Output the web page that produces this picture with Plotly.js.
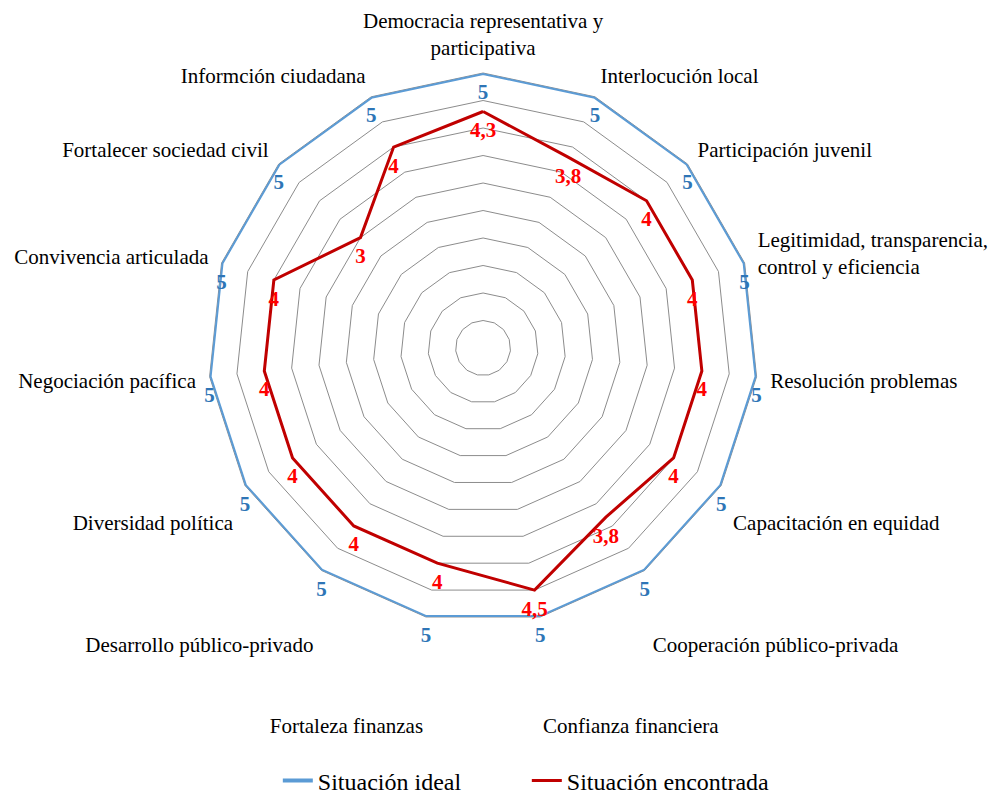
<!DOCTYPE html>
<html>
<head>
<meta charset="utf-8">
<script src="https://cdn.plot.ly/plotly-3.0.1.min.js"></script>
<style>html,body{margin:0;padding:0;background:#fff;}#chart{width:994px;height:805px;}</style>
</head>
<body>
<div id="chart"></div>
<script>
const categories = [
  "Democracia representativa y<br>participativa",
  "Interlocución local",
  "Participación juvenil",
  "Legitimidad, transparencia,<br>control y eficiencia",
  "Resolución problemas",
  "<br>Capacitación en equidad",
  "<br><br>Cooperación público-privada",
  "<br><br><br>Confianza financiera",
  "<br><br><br>Fortaleza finanzas",
  "<br><br>Desarrollo público-privado",
  "<br>Diversidad política",
  "Negociación pacífica",
  "Convivencia articulada",
  "Fortalecer sociedad civil",
  "Informción ciudadana"
];
const ideal = [5, 5, 5, 5, 5, 5, 5, 5, 5, 5, 5, 5, 5, 5, 5];
const encontrada = [4.3, 3.8, 4, 4, 4, 4, 3.8, 4.5, 4, 4, 4, 4, 4, 3, 4];
const seriesNames = ["Situación ideal", "Situación encontrada"];

const closeLoop = a => a.concat([a[0]]);
const fmt = v => String(v).replace('.', ',');
const serif = "'Liberation Serif', 'Times New Roman', serif";

const traces = [
  {type:'scatterpolar', mode:'lines', name:seriesNames[0], r:closeLoop(ideal), theta:closeLoop(categories),
   line:{color:'#5B9BD5', width:4}, hoverinfo:'skip'},
  {type:'scatterpolar', mode:'lines', name:seriesNames[1], r:closeLoop(encontrada), theta:closeLoop(categories),
   line:{color:'#C00000', width:3}, hoverinfo:'skip'},
  {type:'scatterpolar', mode:'markers+text', showlegend:false, r:ideal, theta:categories,
   marker:{size:14, opacity:0},
   text:ideal.map(fmt), textposition:'bottom center',
   textfont:{family:serif, size:21, color:'#2E75B6', weight:'bold'}, hoverinfo:'skip'},
  {type:'scatterpolar', mode:'markers+text', showlegend:false, r:encontrada, theta:categories,
   marker:{size:14, opacity:0},
   text:encontrada.map(fmt), textposition:'bottom center',
   textfont:{family:serif, size:21, color:'#FF0000', weight:'bold'}, hoverinfo:'skip'}
];

const layout = {
  width:994, height:805,
  margin:{l:0, r:0, t:0, b:25},
  paper_bgcolor:'white',
  font:{family:serif, color:'black'},
  showlegend:true,
  legend:{orientation:'h', x:0.53, xanchor:'center', y:-0.03, yanchor:'bottom',
          entrywidth:204, font:{family:serif, size:24, color:'black'}},
  polar:{
    domain:{x:[0.209, 0.763], y:[0.2013, 0.9064]},
    bgcolor:'white',
    gridshape:'linear',
    radialaxis:{range:[0,5], tick0:0, dtick:0.5, showticklabels:false, ticks:'', showline:false,
                gridcolor:'#8c8c8c', gridwidth:1, layer:'below traces'},
    angularaxis:{direction:'clockwise', rotation:90, showgrid:false, ticks:'outside', ticklen:9,
                 tickcolor:'rgba(0,0,0,0)', showline:true, layer:'below traces',
                 linecolor:'#8c8c8c', tickfont:{family:serif, size:21, color:'black'}}
  }
};

Plotly.newPlot('chart', traces, layout, {displayModeBar:false, staticPlot:true});
</script>
</body>
</html>
